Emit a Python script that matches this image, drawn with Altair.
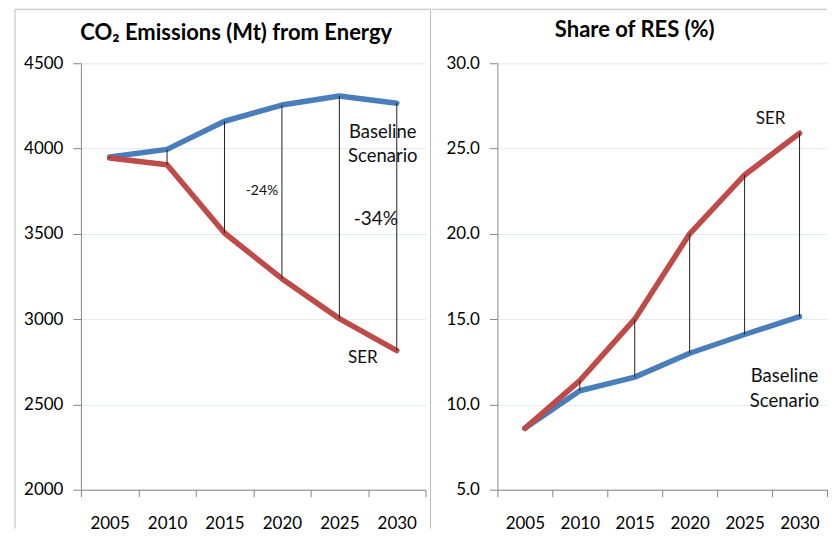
import altair as alt
import pandas as pd

# ---------------- data ----------------
years = ["2005", "2010", "2015", "2020", "2025", "2030"]
co2_baseline = [3950, 3995, 4160, 4255, 4308, 4266]
co2_ser = [3945, 3905, 3505, 3237, 3003, 2816]
res_baseline = [8.6, 10.8, 11.6, 13.0, 14.1, 15.15]
res_ser = [8.6, 11.4, 15.0, 20.0, 23.45, 25.9]

co2_ticks = [2000, 2500, 3000, 3500, 4000, 4500]
res_ticks = [5, 10, 15, 20, 25, 30]

co2_title = "CO\u2082 Emissions (Mt) from Energy"
res_title = "Share of RES (%)"

# annotation labels: text, year, value
co2_note_text = ["Baseline", "Scenario", "-24%", "-34%", "SER"]
co2_note_year = ["2030", "2030", "2020", "2030", "2030"]
co2_note_value = [4097, 3956, 3751, 3588, 2775]

res_note_text = ["SER", "Baseline", "Scenario"]
res_note_year = ["2030", "2030", "2030"]
res_note_value = [26.73, 11.64, 10.23]

# ---------------- style ----------------
FONT = "Lato"
BLUE = "#4A7EBB"
RED = "#BE4B48"
FRAME = "#BDBDBD"
H = 427

co2_note_style = [(-14, 18.5), (-14, 18.5), (-20, 14), (-21, 19), (-34, 17)]
res_note_style = [(-29, 17), (-15, 18.5), (-15, 18.5)]


def panel(title, base, ser, ticks, fmt, n_text, n_year, n_value, n_style,
          width, title_x, title_y, borders):
    df = pd.DataFrame({"year": years, "Baseline": base, "SER": ser})
    xs = alt.Scale(type="band", paddingInner=0, paddingOuter=0, domain=years)
    ys = alt.Scale(domain=[ticks[0], ticks[-1]], nice=False, zero=False)
    yaxis = alt.Axis(title=None, values=ticks, format=fmt)

    def X():
        return alt.X("year:O", bandPosition=0.5, scale=xs, title=None)

    base_line = alt.Chart(df).mark_line(
        color=BLUE, strokeWidth=5.5, strokeCap="round", strokeJoin="round"
    ).encode(x=X(), y=alt.Y("Baseline:Q", scale=ys, axis=yaxis))
    ser_line = alt.Chart(df).mark_line(
        color=RED, strokeWidth=5.5, strokeCap="round", strokeJoin="round"
    ).encode(x=X(), y=alt.Y("SER:Q", scale=ys, axis=yaxis))
    drops = alt.Chart(df).mark_rule(color="#222222", strokeWidth=1).encode(
        x=X(), y=alt.Y("Baseline:Q", scale=ys, axis=yaxis), y2="SER:Q"
    )

    layers = [base_line, ser_line, drops]

    for t, yr, v, (dx, fs) in zip(n_text, n_year, n_value, n_style):
        ndf = pd.DataFrame({"year": [yr], "value": [v], "label": [t]})
        layers.append(
            alt.Chart(ndf).mark_text(
                font=FONT, fontSize=fs, color="#111111", dx=dx,
                align="center", baseline="middle"
            ).encode(x=X(), y=alt.Y("value:Q", scale=ys, axis=yaxis), text="label:N")
        )

    tdf = pd.DataFrame({"t": [title]})
    layers.append(
        alt.Chart(tdf).mark_text(
            font=FONT, fontSize=22, fontWeight="bold", color="#000000",
            align="center", baseline="middle"
        ).encode(x=alt.value(title_x), y=alt.value(title_y), text="t:N")
    )

    for b in borders:
        bdf = pd.DataFrame({"k": [1]})
        enc = {k: alt.value(v) for k, v in b.items()}
        layers.append(
            alt.Chart(bdf).mark_rule(color=FRAME, strokeWidth=1).encode(**enc)
        )

    return alt.layer(*layers).properties(width=width, height=H)


left = panel(
    co2_title, co2_baseline, co2_ser, co2_ticks, "d",
    co2_note_text, co2_note_year, co2_note_value, co2_note_style,
    345, 155.5, -30,
    [
        {"x": -66, "y": -54, "y2": 466},
        {"x": -66, "x2": 350, "y": -54},
        {"x": 350, "y": -54, "y2": 466},
    ],
)

right = panel(
    res_title, res_baseline, res_ser, res_ticks, ".1f",
    res_note_text, res_note_year, res_note_value, res_note_style,
    330, 137.5, -33,
    [
        {"x": -65, "x2": 330, "y": -54},
    ],
)

chart = (
    alt.hconcat(left, right, spacing=0)
    .properties(padding={"left": 6, "top": 0, "right": 0, "bottom": 0},
                background="white")
    .configure_view(strokeWidth=0)
    .configure_axis(
        labelFont=FONT, labelFontSize=17, labelColor="#000000",
        domainColor="#868686", tickColor="#868686", domainWidth=1, tickWidth=1,
        gridColor="#E2E9F3", gridWidth=1,
    )
    .configure_axisY(grid=True, tickSize=8, labelPadding=10)
    .configure_axisX(grid=False, tickSize=7, labelPadding=19, tickBand="extent", labelAngle=0)
)

chart.save("out.html", embed_options={"renderer": "svg", "actions": False})
